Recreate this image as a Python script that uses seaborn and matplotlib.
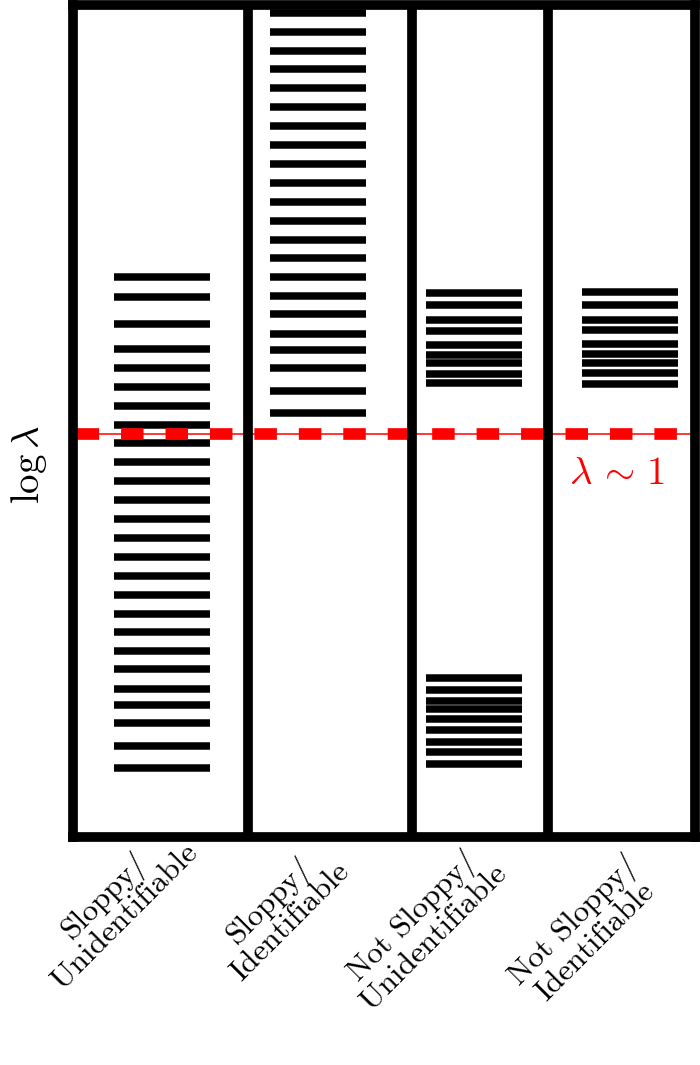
"""
Sloppiness vs identifiability: schematic eigenvalue spectra (log lambda)
for the four model regimes, with the lambda ~ 1 threshold.
"""
import numpy as np
import pandas as pd
import matplotlib
matplotlib.use("Agg")
import matplotlib.pyplot as plt
import matplotlib.transforms as mtransforms
import seaborn as sns

# ------------------------------------------------------------------
# Data: eigenvalues on a log scale (0 <=> lambda ~ 1)
# ------------------------------------------------------------------
regimes = [
    "Sloppy/\nUnidentifiable",
    "Sloppy/\nIdentifiable",
    "Not Sloppy/\nUnidentifiable",
    "Not Sloppy/\nIdentifiable",
]

sloppy_unident = [3.14, 2.74, 2.20, 1.70, 1.32, 0.94, 0.56, 0.18, -0.18,
                  -0.56, -0.94, -1.32, -1.70, -2.08, -2.46, -2.84, -3.22,
                  -3.60, -3.96, -4.34, -4.70, -5.10, -5.42, -5.78, -6.24,
                  -6.68]
sloppy_ident = [8.42, 8.04, 7.66, 7.30, 6.92, 6.54, 6.16, 5.78, 5.40, 5.02,
                4.64, 4.26, 3.88, 3.52, 3.14, 2.76, 2.40, 2.00, 1.68, 1.32,
                0.86, 0.42]
notsloppy_unident = [2.81, 2.57, 2.27, 2.05, 1.77, 1.58, 1.41, 1.19, 1.02,
                     -4.89, -5.13, -5.34, -5.51, -5.70, -5.93, -6.16, -6.36,
                     -6.61]
notsloppy_ident = [2.83, 2.58, 2.28, 2.07, 1.79, 1.59, 1.41, 1.21, 1.00]

spectra = [sloppy_unident, sloppy_ident, notsloppy_unident, notsloppy_ident]

df = pd.concat(
    [pd.DataFrame({"regime": name, "log_lambda": vals})
     for name, vals in zip(regimes, spectra)],
    ignore_index=True,
)
df["regime"] = pd.Categorical(df["regime"], categories=regimes)
df["pos"] = df["regime"].cat.codes

# ------------------------------------------------------------------
# Style
# ------------------------------------------------------------------
sns.set_theme(style="white")
plt.rcParams["mathtext.fontset"] = "cm"
plt.rcParams["lines.scale_dashes"] = False
plt.rcParams["text.color"] = "black"
plt.rcParams["axes.labelcolor"] = "black"
plt.rcParams["xtick.color"] = "black"

fig = plt.figure(figsize=(7, 10.65), dpi=100)
ax = fig.add_axes([0.1043, 0.2141, 0.8886, 0.7812])

# eigenvalue bars
sns.scatterplot(
    data=df, x="pos", y="log_lambda", marker="_", s=68.4 ** 2,
    linewidth=5.4, color="black", legend=False, ax=ax, zorder=2,
)

# lambda ~ 1 threshold
ax.axhline(0, color="red", lw=1.1, zorder=2.2)
ax.axhline(0, color="red", lw=8.4, linestyle=(29.4, (16.2, 15.8)),
           zorder=2.2)
ax.text(2.92, -0.78, r"$\lambda\,\sim\,1$", color="red", fontsize=28,
        ha="center", va="center")

# column dividers
for xd in [0.549, 1.601, 2.474]:
    ax.axvline(xd, color="black", lw=7, zorder=2.4)

ax.set_xlim(-0.574, 3.417)
ax.set_ylim(-8.06, 8.58)

for sp in ax.spines.values():
    sp.set_linewidth(7)
    sp.set_color("black")
    sp.set_zorder(2.5)

ax.set_yticks([])
ax.set_xticks(range(len(regimes)))
ax.set_xticklabels(regimes, rotation=45, rotation_mode="anchor",
                   ha="center", va="center", fontsize=22.5, family="cmr10",
                   multialignment="center", linespacing=1.0, color="black")
ax.tick_params(axis="x", length=0, pad=0)
# label block centres, pixels relative to tick / axes bottom
label_shift = [(-48, -69), (-39, -74), (-51, -90), (-46, -94)]
for lbl, (dx, dy) in zip(ax.get_xticklabels(), label_shift):
    off = mtransforms.ScaledTranslation(dx / 100, dy / 100, fig.dpi_scale_trans)
    lbl.set_transform(lbl.get_transform() + off)

ax.set_xlabel("")
ax.set_ylabel(r"$\log\lambda$", fontsize=28, color="black")
ax.yaxis.set_label_coords(-0.0386, 0.448)

fig.savefig("out.png", dpi=100)
plt.close()
